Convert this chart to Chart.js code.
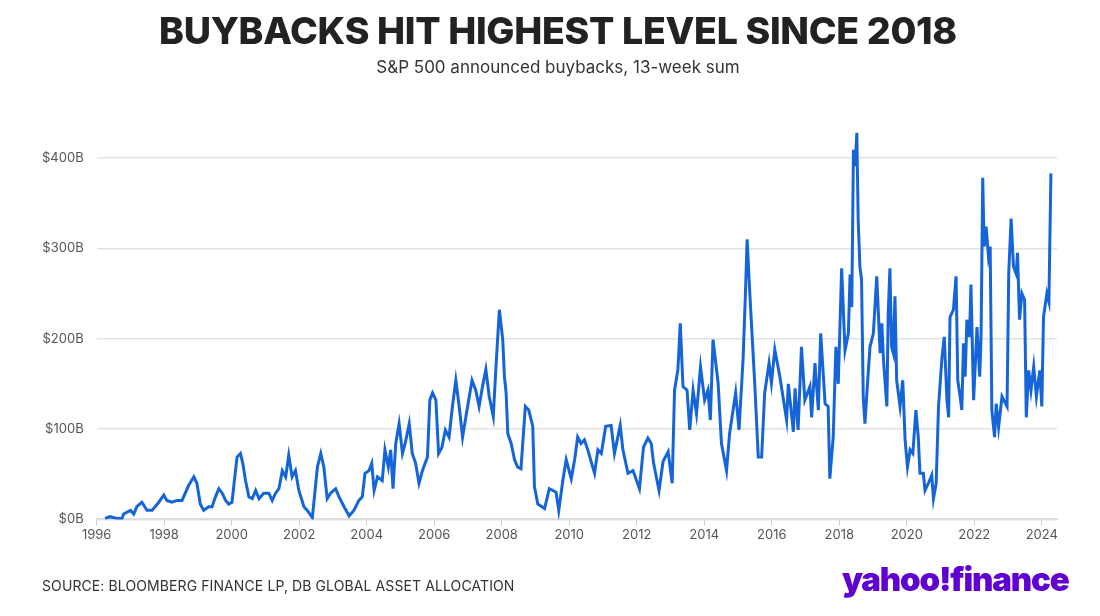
<!DOCTYPE html>
<html><head><meta charset="utf-8">
<script src="https://cdn.jsdelivr.net/npm/chart.js@4"></script>
<style>
html,body{margin:0;padding:0;background:#fff;}
#wrap{position:relative;width:1100px;height:616px;overflow:hidden;font-family:Inter,"Noto Sans",sans-serif;}
#title{position:absolute;top:8px;left:0;width:1116px;text-align:center;font-family:Inter;font-weight:800;font-size:37.5px;color:#222;letter-spacing:-0.3px;}
#sub{position:absolute;top:57px;left:0;width:1116px;text-align:center;font-family:Inter;font-size:17px;color:#333;}
#src{position:absolute;top:577px;left:42px;font-family:Inter;font-size:14px;color:#333;letter-spacing:0.1px;}
#logo{position:absolute;top:559px;left:842px;font-family:Inter;font-weight:900;font-size:33px;color:#6001d2;letter-spacing:-1.2px;}
#c{position:absolute;left:0;top:0;}
</style></head><body>
<div id="wrap">
<canvas id="c" width="1100" height="616"></canvas>
<div id="title">BUYBACKS HIT HIGHEST LEVEL SINCE 2018</div>
<div id="sub">S&amp;P 500 announced buybacks, 13-week sum</div>
<div id="src">SOURCE: BLOOMBERG FINANCE LP, DB GLOBAL ASSET ALLOCATION</div>
<div id="logo">yahoo!finance</div>
</div>
<script>
const dates = [1996.25,1996.40,1996.60,1996.75,1996.80,1997.00,1997.10,1997.19,1997.34,1997.49,1997.64,1997.84,1997.99,1998.08,1998.23,1998.38,1998.53,1998.73,1998.88,1998.97,1999.07,1999.17,1999.32,1999.42,1999.52,1999.62,1999.72,1999.82,1999.91,2000.01,2000.08,2000.16,2000.26,2000.33,2000.41,2000.51,2000.61,2000.71,2000.81,2000.95,2001.10,2001.20,2001.30,2001.40,2001.50,2001.60,2001.69,2001.79,2001.89,2001.99,2002.14,2002.24,2002.39,2002.54,2002.64,2002.73,2002.83,2002.93,2003.08,2003.18,2003.33,2003.48,2003.62,2003.77,2003.87,2003.95,2004.07,2004.15,2004.22,2004.32,2004.46,2004.54,2004.64,2004.71,2004.78,2004.86,2004.96,2005.06,2005.14,2005.26,2005.35,2005.45,2005.55,2005.65,2005.80,2005.87,2005.95,2006.05,2006.13,2006.23,2006.33,2006.44,2006.54,2006.64,2006.74,2006.84,2006.94,2007.12,2007.23,2007.33,2007.43,2007.53,2007.63,2007.75,2007.83,2007.93,2008.03,2008.08,2008.13,2008.18,2008.28,2008.38,2008.47,2008.57,2008.70,2008.80,2008.92,2008.97,2009.07,2009.27,2009.41,2009.61,2009.69,2009.81,2009.91,2010.06,2010.16,2010.25,2010.35,2010.45,2010.55,2010.75,2010.85,2010.95,2011.08,2011.24,2011.34,2011.51,2011.59,2011.74,2011.89,2012.08,2012.20,2012.33,2012.43,2012.50,2012.66,2012.78,2012.93,2013.05,2013.12,2013.22,2013.29,2013.37,2013.49,2013.57,2013.67,2013.77,2013.89,2014.01,2014.11,2014.18,2014.26,2014.41,2014.51,2014.66,2014.75,2014.93,2015.03,2015.15,2015.22,2015.27,2015.35,2015.50,2015.60,2015.70,2015.79,2015.92,2015.99,2016.09,2016.24,2016.44,2016.49,2016.64,2016.69,2016.78,2016.88,2016.98,2017.13,2017.18,2017.28,2017.38,2017.45,2017.58,2017.67,2017.72,2017.82,2017.90,2017.97,2018.07,2018.17,2018.27,2018.32,2018.37,2018.42,2018.47,2018.52,2018.56,2018.61,2018.66,2018.71,2018.76,2018.83,2018.91,2019.01,2019.11,2019.21,2019.26,2019.31,2019.41,2019.45,2019.50,2019.55,2019.60,2019.65,2019.70,2019.80,2019.88,2019.95,2020.02,2020.10,2020.18,2020.27,2020.34,2020.39,2020.49,2020.54,2020.64,2020.74,2020.79,2020.87,2020.94,2021.04,2021.11,2021.19,2021.24,2021.28,2021.38,2021.46,2021.51,2021.58,2021.63,2021.68,2021.73,2021.78,2021.86,2021.90,2021.98,2022.08,2022.16,2022.20,2022.25,2022.29,2022.35,2022.42,2022.47,2022.52,2022.60,2022.65,2022.72,2022.82,2022.97,2023.02,2023.09,2023.16,2023.24,2023.28,2023.34,2023.41,2023.49,2023.54,2023.61,2023.68,2023.76,2023.84,2023.94,2024.00,2024.05,2024.15,2024.21,2024.27];
const buybacks = [1,3,1,1,6,10,6,14,19,10,10,19,27,21,19,21,21,38,47,40,17,10,14,14,25,34,29,21,17,19,43,69,73,62,43,25,23,32,23,29,29,21,29,34,54,47,71,47,54,32,14,10,2,58,73,58,23,29,34,25,14,4,10,21,25,51,54,62,32,47,43,77,58,77,34,84,106,73,84,106,73,62,40,54,69,132,140,132,73,80,99,91,125,154,125,91,114,154,143,125,147,166,136,114,169,232,199,158,140,95,84,66,58,56,125,121,103,36,17,12,34,30,10,43,66,45,66,91,84,88,77,51,77,73,103,104,73,104,77,51,54,34,80,90,84,62,32,64,75,40,143,166,217,147,143,99,143,117,169,132,143,110,199,151,84,54,95,140,99,177,250,310,250,147,69,69,140,173,151,188,158,110,150,97,145,99,191,132,147,113,173,121,206,128,125,45,91,191,150,278,187,206,271,235,409,391,428,332,280,265,136,106,147,191,206,269,184,217,176,125,228,278,191,184,247,154,125,154,88,58,77,73,121,91,51,51,32,40,49,23,40,125,178,202,132,113,224,232,269,154,136,121,195,158,221,202,260,132,213,158,202,378,302,324,291,302,121,91,128,102,136,125,272,333,280,272,295,221,250,243,113,165,143,169,136,165,125,224,250,241,383];
const yTicks = [0,100,200,300,400];
const xTicks = [1996,1998,2000,2002,2004,2006,2008,2010,2012,2014,2016,2018,2020,2022,2024];

const pts = dates.map((d,i)=>({x:d,y:buybacks[i]}));
new Chart(document.getElementById('c'),{
  type:'line',
  data:{datasets:[{data:pts,borderColor:'#1565d8',borderWidth:3,pointRadius:0,tension:0,fill:false}]},
  options:{
    responsive:false,animation:false,
    layout:{padding:{top:130,left:29,right:43,bottom:71}},
    plugins:{legend:{display:false},tooltip:{enabled:false}},
    scales:{
      x:{type:'linear',min:1996,max:2024.45,
        afterBuildTicks:s=>{s.ticks=xTicks.map(v=>({value:v}));},
        ticks:{callback:v=>String(v),color:'#555',font:{family:'Inter',size:13},maxRotation:0,autoSkip:false,padding:2},
        grid:{display:true,drawOnChartArea:false,drawTicks:true,tickLength:6,color:'#ccc'},
        border:{display:true,color:'#ddd',width:2}},
      y:{min:0,max:431,
        afterBuildTicks:s=>{s.ticks=yTicks.map(v=>({value:v}));},
        ticks:{callback:v=>'$'+v+'B',color:'#555',font:{family:'Inter',size:13},padding:13},
        grid:{color:'#e3e3e3',lineWidth:1.5,drawTicks:false},
        border:{display:false}}
    }
  }
});
</script>
</body></html>
